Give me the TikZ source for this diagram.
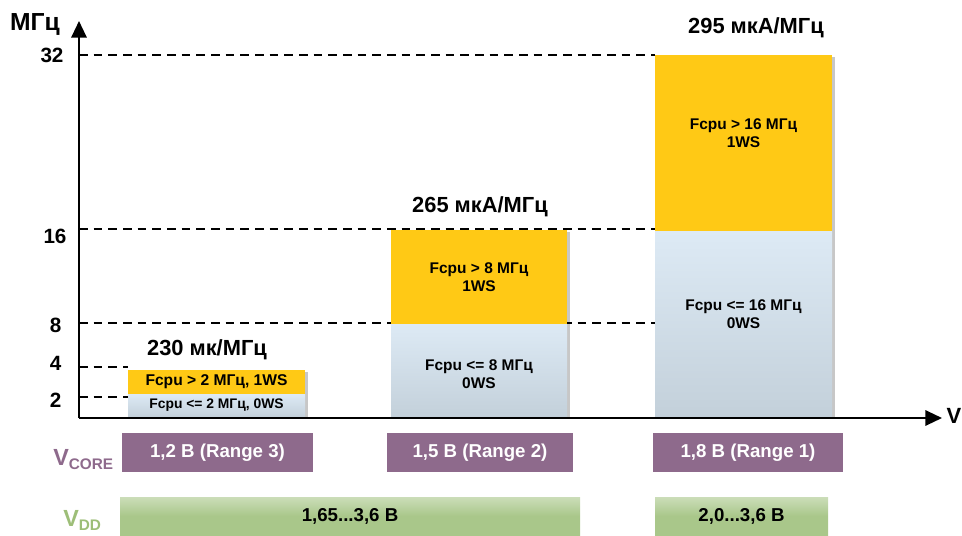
\documentclass[tikz,border=0pt]{standalone}
\usepackage{fontspec}
\setmainfont{Liberation Sans}
\usetikzlibrary{fit,arrows.meta}
\definecolor{ybar}{HTML}{FFC915}
\definecolor{btop}{HTML}{DDEAF5}
\definecolor{bbot}{HTML}{C3D0DA}
\definecolor{vcore}{HTML}{8E6A8C}
\definecolor{vdd}{HTML}{A9C78A}
\definecolor{vddtxt}{HTML}{9DBE78}
\tikzset{
  axis/.style={line width=1.6pt,-{Triangle[length=12.5pt,width=11.5pt]}},
  guide/.style={line width=0.9pt,dash pattern=on 6.5pt off 4.5pt},
  ybox/.style={fill=ybar,inner sep=0pt},
  bbox/.style={top color=btop,bottom color=bbot,inner sep=0pt},
  cbox/.style={fill=vcore,inner sep=0pt},
  dbox/.style={top color=vdd!60!white,bottom color=vdd,middle color=vdd,shading angle=0,inner sep=0pt},
  bartxt/.style={font=\bfseries\fontsize{11.6}{13.5}\selectfont,align=center},
  boxtxt/.style={font=\bfseries\fontsize{14}{16}\selectfont},
  tick/.style={font=\bfseries\fontsize{15.5}{17}\selectfont},
  cur/.style={font=\bfseries\fontsize{16.4}{19}\selectfont},
  shad/.style={fill=black!22},
}
\begin{document}
\begin{tikzpicture}[x=0.75pt,y=-0.75pt]
\useasboundingbox (0,0) rectangle (962,535);
% shadows
\fill[shad] (130,372) rectangle (308,419);
\fill[shad] (393,232) rectangle (570,419);
\fill[shad] (657,57) rectangle (835,419);
% guides
\coordinate (g32) at (79,55);
\coordinate (g16) at (79,229);
\coordinate (g8) at (79,323);
\coordinate (g4) at (79,367);
\coordinate (g2) at (79,397);
\coordinate (e32) at (655,55);
\coordinate (e16) at (655,229);
\coordinate (e8) at (655,323);
\coordinate (e4) at (128,367);
\coordinate (e2) at (128,397);
\draw[guide] (g32) -- (e32);
\draw[guide] (g16) -- (e16);
\draw[guide] (g8) -- (e8);
\draw[guide] (g4) -- (e4);
\draw[guide] (g2) -- (e2);
% bars
\node[ybox,fit={(128,370) (305,394)}] (b1y) {};
\node[bbox,fit={(128,394) (305,417)}] (b1b) {};
\node[font=\bfseries\fontsize{11.7}{13.5}\selectfont] (t1y) at (b1y.center) {Fcpu > 2 МГц, 1WS};
\node[font=\bfseries\fontsize{10.4}{12}\selectfont] (t1b) at (b1b.center) {Fcpu <= 2 МГц, 0WS};
\node[ybox,fit={(391,230) (567,324)}] (b2y) {};
\node[bbox,fit={(391,324) (567,417)}] (b2b) {};
\node[bartxt] (t2y) at (b2y.center) {Fcpu > 8 МГц\\1WS};
\node[bartxt] (t2b) at ([yshift=-3pt]b2b.center) {Fcpu <= 8 МГц\\0WS};
\node[ybox,fit={(655,55) (832,231)}] (b3y) {};
\node[bbox,fit={(655,231) (832,417)}] (b3b) {};
\node[bartxt] (t3y) at ([yshift=7pt]b3y.center) {Fcpu > 16 МГц\\1WS};
\node[bartxt] (t3b) at ([yshift=7.5pt]b3b.center) {Fcpu <= 16 МГц\\0WS};
% current labels
\node[cur] (c1) at (207,350) {230 мк/МГц};
\node[cur] (c2) at (480,207) {265 мкА/МГц};
\node[cur] (c3) at (756,28) {295 мкА/МГц};
% axes
\coordinate (o) at (79,418);
\coordinate (ytip) at (79,21);
\coordinate (xtip) at (942,418);
\draw[axis] (o) -- (ytip);
\draw[axis] (o) -- (xtip);
\node[font=\bfseries\fontsize{16.5}{19}\selectfont] (vlab) at (954,416) {V};
\node[font=\bfseries\fontsize{18.5}{21}\selectfont] (mhz) at (35,24) {МГц};
\node[tick] (n32) at (52,55) {32};
\node[tick] (n16) at (55,236) {16};
\node[tick] (n8) at (55.5,325) {8};
\node[tick] (n4) at (55.5,363) {4};
\node[tick] (n2) at (55.5,400) {2};
% Vcore
\node[cbox,fit={(122,433) (313,472)}] (vc1) {};
\node[boxtxt,text=white] (tvc1) at (vc1.center) {1,2 В (Range 3)};
\node[cbox,fit={(387,433) (573,472)}] (vc2) {};
\node[boxtxt,text=white] (tvc2) at (vc2.center) {1,5 В (Range 2)};
\node[cbox,fit={(653,433) (843,472)}] (vc3) {};
\node[boxtxt,text=white] (tvc3) at (vc3.center) {1,8 В (Range 1)};
% Vdd
\node[dbox,fit={(120,497) (580,535)}] (vd1) {};
\node[boxtxt] (tvd1) at (vd1.center) {1,65...3,6 В};
\node[dbox,fit={(655,497) (828,535)}] (vd2) {};
\node[boxtxt] (tvd2) at (vd2.center) {2,0...3,6 В};
% side labels
\node[text=vcore,font=\bfseries\fontsize{17.5}{19}\selectfont,anchor=base west,inner sep=0pt] (lvc) at (53,465) {V\raisebox{-3pt}{\fontsize{11.5}{13}\selectfont CORE}};
\node[text=vddtxt,font=\bfseries\fontsize{17.5}{19}\selectfont,anchor=base west,inner sep=0pt] (lvd) at (63,526) {V\raisebox{-3pt}{\fontsize{11.5}{13}\selectfont DD}};
\end{tikzpicture}
\end{document}
